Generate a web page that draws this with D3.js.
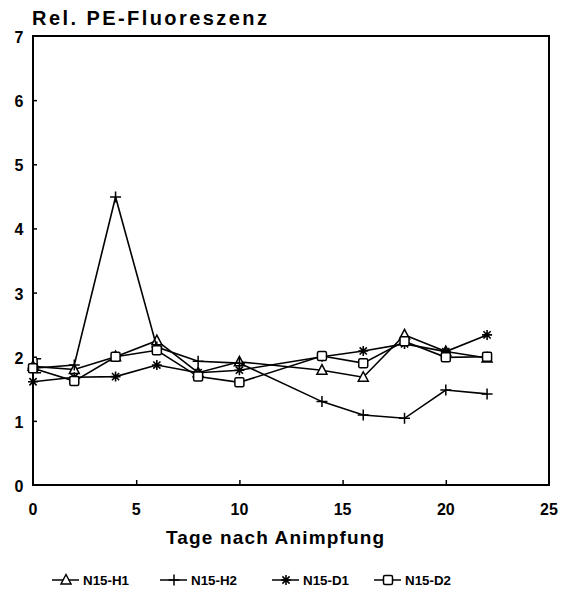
<!DOCTYPE html>
<html><head><meta charset="utf-8">
<script src="https://cdn.jsdelivr.net/npm/d3@7"></script>
<style>
html,body{margin:0;padding:0;background:#fff;}
svg{display:block;}
text{font-family:"Liberation Sans",Arial,Helvetica,sans-serif;fill:#000;}
</style></head>
<body>
<script>
const days = [0, 2, 4, 6, 8, 10, 14, 16, 18, 20, 22];
const seriesNames = ["N15-H1", "N15-H2", "N15-D1", "N15-D2"];
const h1 = [1.85, 1.80, 2.00, 2.25, 1.75, 1.92, 1.79, 1.68, 2.34, 2.08, 1.98];
const h2 = [1.82, 1.87, 4.49, 2.15, 1.93, 1.90, 1.30, 1.09, 1.04, 1.48, 1.42];
const d1 = [1.61, 1.68, 1.69, 1.87, 1.75, 1.79, 2.00, 2.09, 2.20, 2.08, 2.34];
const d2 = [1.82, 1.62, 2.00, 2.10, 1.69, 1.60, 2.01, 1.90, 2.24, 1.99, 2.00];
const errDay = [0.2], errLow = [1.75], errHigh = [1.97];
const xTicks = [0, 5, 10, 15, 20, 25];
const yTicks = [0, 1, 2, 3, 4, 5, 6, 7];
const markers = ["triangle", "plus", "asterisk", "square"];
const titleText = "Rel. PE-Fluoreszenz";
const xLabelText = "Tage nach Animpfung";

const W = 573, H = 602;
const svg = d3.select("body").append("svg").attr("width", W).attr("height", H);
const x = d3.scaleLinear().domain([0, 25]).range([33, 549]);
const y = d3.scaleLinear().domain([0, 7]).range([485, 36]);

// frame
svg.append("rect").attr("x", x(0)).attr("y", y(7)).attr("width", x(25) - x(0)).attr("height", y(0) - y(7))
  .attr("fill", "none").attr("stroke", "#000").attr("stroke-width", 2);

// axes ticks (inward)
const yAxis = d3.axisRight(y).tickValues(yTicks.slice(1, -1)).tickSize(4).tickFormat("");
svg.append("g").attr("transform", `translate(${x(0)},0)`).call(yAxis)
  .call(g => g.select(".domain").remove()).selectAll("line").attr("stroke-width", 1.5);
const xAxis = d3.axisTop(x).tickValues(xTicks.slice(1, -1)).tickSize(5).tickFormat("");
svg.append("g").attr("transform", `translate(0,${y(0)})`).call(xAxis)
  .call(g => g.select(".domain").remove()).selectAll("line").attr("stroke-width", 1.5);

// tick labels
svg.append("g").selectAll("text").data(yTicks).join("text")
  .attr("x", 19).attr("y", d => y(d) + 7).attr("text-anchor", "middle")
  .attr("font-size", 16).attr("font-weight", "bold").text(d => d);
svg.append("g").selectAll("text").data(xTicks).join("text")
  .attr("x", d => x(d)).attr("y", 515).attr("text-anchor", "middle")
  .attr("font-size", 16).attr("font-weight", "bold").text(d => d);

// titles
svg.append("text").attr("x", 32).attr("y", 25).attr("font-size", 20).attr("font-weight", "bold")
  .attr("textLength", 235).attr("lengthAdjust", "spacing").text(titleText);
svg.append("text").attr("x", 166).attr("y", 544).attr("font-size", 19).attr("font-weight", "bold")
  .attr("textLength", 218).attr("lengthAdjust", "spacing").text(xLabelText);

// marker drawing
function drawMarker(g, type, cx, cy) {
  const s = 4.5;
  if (type === "triangle") {
    g.append("path").attr("d", `M${cx},${cy - s - 1}L${cx + s + 0.5},${cy + s - 0.5}L${cx - s - 0.5},${cy + s - 0.5}Z`)
      .attr("fill", "#fff").attr("stroke", "#000").attr("stroke-width", 1.5);
  } else if (type === "square") {
    g.append("rect").attr("x", cx - s).attr("y", cy - s).attr("width", 2 * s).attr("height", 2 * s).attr("rx", 1.5)
      .attr("fill", "#fff").attr("stroke", "#000").attr("stroke-width", 1.5);
  } else if (type === "plus") {
    g.append("path").attr("d", `M${cx - s - 1},${cy}H${cx + s + 1}M${cx},${cy - s - 1}V${cy + s + 1}`)
      .attr("stroke", "#000").attr("stroke-width", 1.5);
  } else if (type === "asterisk") {
    const r = s + 0.5, d = r * 0.72;
    g.append("path").attr("d", `M${cx - r},${cy}H${cx + r}M${cx},${cy - r}V${cy + r}M${cx - d},${cy - d}L${cx + d},${cy + d}M${cx - d},${cy + d}L${cx + d},${cy - d}`)
      .attr("stroke", "#000").attr("stroke-width", 1.6);
  }
}

const allSeries = [h1, h2, d1, d2];
const line = d3.line().x((d, i) => x(days[i])).y(d => y(d));
allSeries.forEach((vals, k) => {
  const g = svg.append("g");
  g.append("path").datum(vals).attr("d", line).attr("fill", "none").attr("stroke", "#000").attr("stroke-width", 1.6);
  vals.forEach((v, i) => drawMarker(g, markers[k], x(days[i]), y(v)));
});

// error bar
errDay.forEach((dd, i) => {
  const ex = x(dd);
  svg.append("path").attr("d", `M${ex},${y(errLow[i])}V${y(errHigh[i])}M${ex - 1},${y(errLow[i])}H${ex + 4}M${ex - 1},${y(errHigh[i])}H${ex + 4}`)
    .attr("stroke", "#000").attr("stroke-width", 1.5).attr("fill", "none");
});

// legend
const legX = [52, 160, 272, 374];
const lg = svg.append("g");
seriesNames.forEach((name, k) => {
  const lx = legX[k], ly = 580;
  lg.append("line").attr("x1", lx).attr("x2", lx + 27).attr("y1", ly).attr("y2", ly).attr("stroke", "#000").attr("stroke-width", 1.5);
  drawMarker(lg, markers[k], lx + 14, ly);
  lg.append("text").attr("x", lx + 31).attr("y", ly + 4.5).attr("font-size", 12).attr("font-weight", "bold")
    .attr("textLength", 46).attr("lengthAdjust", "spacingAndGlyphs").text(name);
});
</script>
</body></html>
